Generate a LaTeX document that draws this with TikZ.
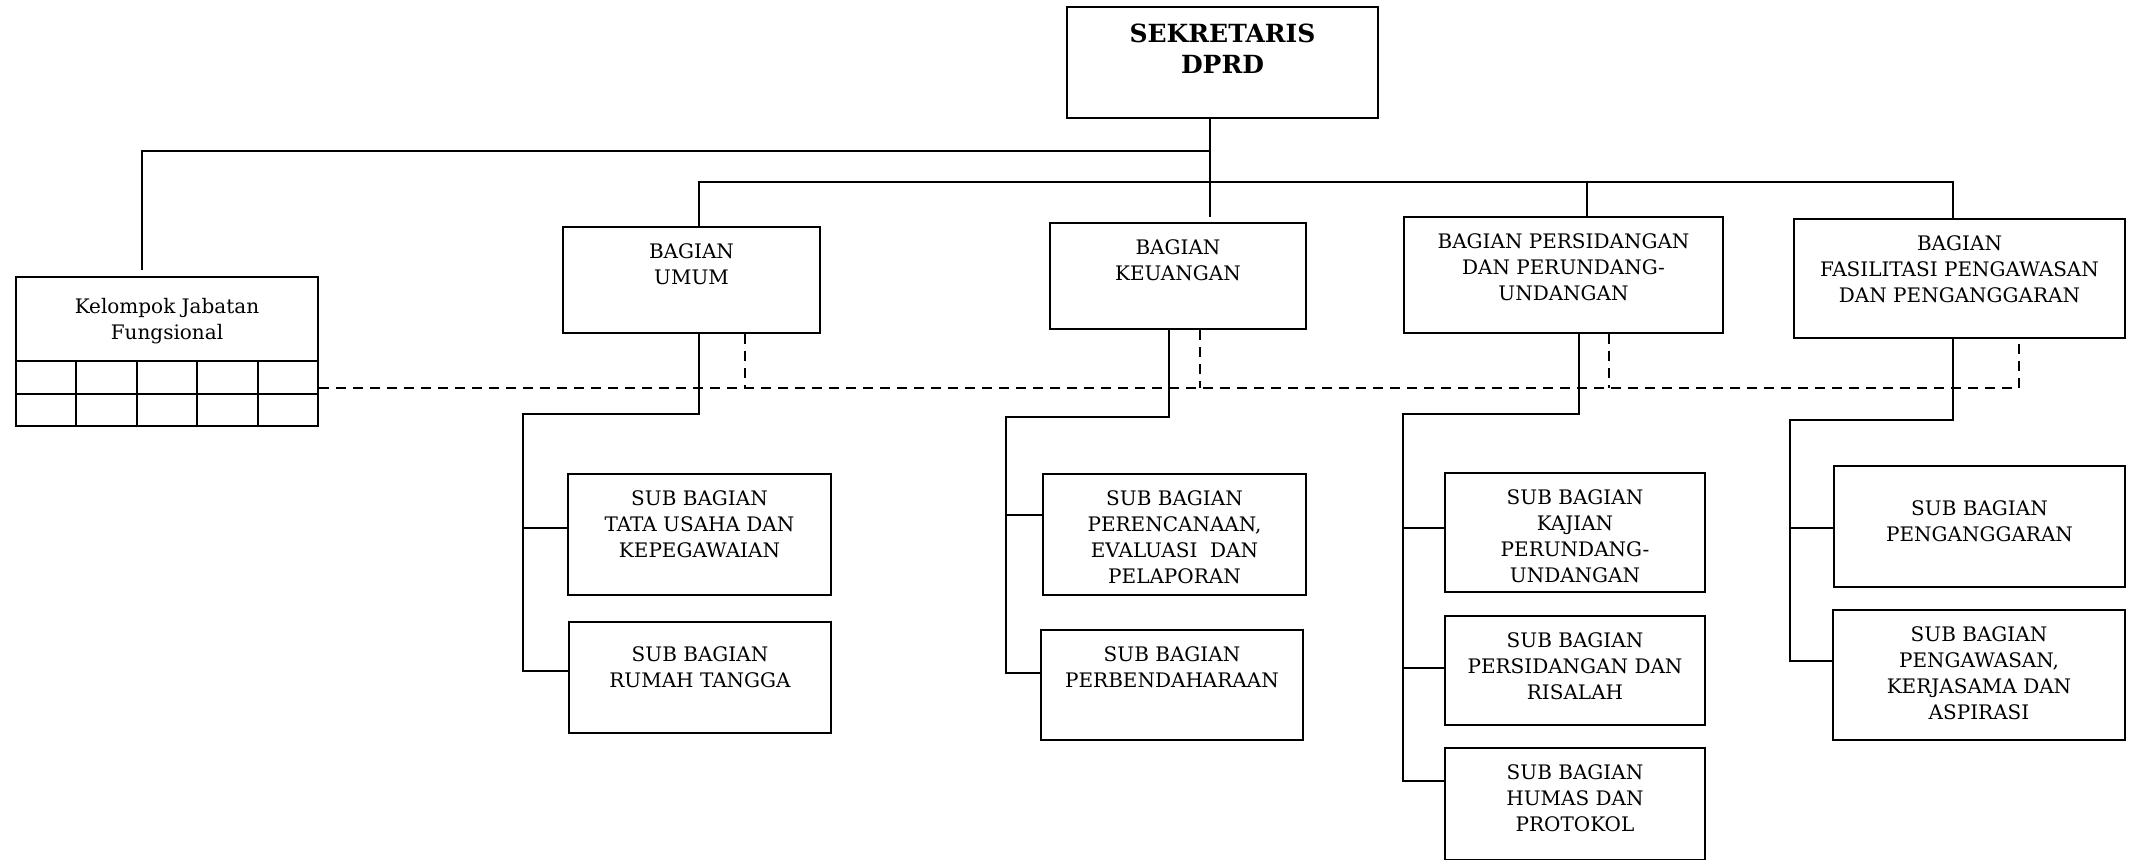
\documentclass[tikz,border=0pt]{standalone}
\usepackage{fontspec}
\setmainfont{DejaVu Serif}
\usetikzlibrary{fit,calc}
\begin{document}
\begin{tikzpicture}[x=0.5pt,y=-0.5pt,line width=1.1pt,
  unit/.style={draw,rectangle,inner sep=0pt,line width=1.1pt},
  label text/.style={anchor=north,align=center,inner sep=0pt,
    font=\fontsize{10}{13}\selectfont},
  head text/.style={anchor=north,align=center,inner sep=0pt,
    font=\bfseries\fontsize{12.5}{15.5}\selectfont},
  link/.style={line width=1.1pt},
  staff link/.style={line width=1.1pt,dash pattern=on 5pt off 3.5pt}]
\useasboundingbox (0,0) rectangle (2129,859);

% ---- units -------------------------------------------------------------
\node[unit,fit={(1067,7)(1378,118)}] (sek) {};
\node[head text] (sekT) at ($(sek.north)+(0,17)$) {SEKRETARIS\\DPRD};

\node[unit,fit={(16,277)(318,426)}] (kel) {};
\node[label text] (kelT) at ($(kel.north)+(0,21)$) {Kelompok Jabatan\\Fungsional};

\node[unit,fit={(563,227)(820,333)}] (umum) {};
\node[label text] (umumT) at ($(umum.north)+(0,17)$) {BAGIAN\\UMUM};

\node[unit,fit={(1050,223)(1306,329)}] (keu) {};
\node[label text] (keuT) at ($(keu.north)+(0,17)$) {BAGIAN\\KEUANGAN};

\node[unit,fit={(1404,217)(1723,333)}] (pers) {};
\node[label text] (persT) at ($(pers.north)+(0,17)$) {BAGIAN PERSIDANGAN\\DAN PERUNDANG-\\UNDANGAN};

\node[unit,fit={(1794,219)(2125,338)}] (fas) {};
\node[label text] (fasT) at ($(fas.north)+(0,17)$) {BAGIAN\\FASILITASI PENGAWASAN\\DAN PENGANGGARAN};

\node[unit,fit={(568,474)(831,595)}] (tu) {};
\node[label text] (tuT) at ($(tu.north)+(0,17)$) {SUB BAGIAN\\TATA USAHA DAN\\KEPEGAWAIAN};

\node[unit,fit={(569,622)(831,733)}] (rt) {};
\node[label text] (rtT) at ($(rt.north)+(0,25)$) {SUB BAGIAN\\RUMAH TANGGA};

\node[unit,fit={(1043,474)(1306,595)}] (pel) {};
\node[label text] (pelT) at ($(pel.north)+(0,17)$) {SUB BAGIAN\\PERENCANAAN,\\EVALUASI\ \ DAN\\PELAPORAN};

\node[unit,fit={(1041,630)(1303,740)}] (perb) {};
\node[label text] (perbT) at ($(perb.north)+(0,17)$) {SUB BAGIAN\\PERBENDAHARAAN};

\node[unit,fit={(1445,473)(1705,592)}] (kaj) {};
\node[label text] (kajT) at ($(kaj.north)+(0,17)$) {SUB BAGIAN\\KAJIAN\\PERUNDANG-\\UNDANGAN};

\node[unit,fit={(1445,616)(1705,725)}] (ris) {};
\node[label text] (risT) at ($(ris.north)+(0,17)$) {SUB BAGIAN\\PERSIDANGAN DAN\\RISALAH};

\node[unit,fit={(1445,748)(1705,860)}] (hum) {};
\node[label text] (humT) at ($(hum.north)+(0,17)$) {SUB BAGIAN\\HUMAS DAN\\PROTOKOL};

\node[unit,fit={(1834,466)(2125,587)}] (peng) {};
\node[label text] (pengT) at ($(peng.north)+(0,35)$) {SUB BAGIAN\\PENGANGGARAN};

\node[unit,fit={(1833,610)(2125,740)}] (pka) {};
\node[label text] (pkaT) at ($(pka.north)+(0,17)$) {SUB BAGIAN\\PENGAWASAN,\\KERJASAMA DAN\\ASPIRASI};

% grid under the functional group
\draw (kel.west |- 0,361) -- (kel.east |- 0,361);
\draw (kel.west |- 0,394) -- (kel.east |- 0,394);
\foreach \cx in {76,137,197,258}
  \draw (\cx,361) -- (\cx,426);

% ---- line of command ---------------------------------------------------
\coordinate (keuTop) at (1210,217);
\coordinate (kelTop) at (142,270);
\draw[link] (sek.south -| 1210,0) -- (keuTop);
\draw[link] (1210,151) -- (142,151) -- (kelTop);
\draw[link] (umum.north -| 699,0) -- (699,182) -- (1953,182) -- (fas.north -| 1953,0);
\draw[link] (pers.north -| 1587,0) -- (1587,182);

% Bagian Umum
\draw[link] (umum.south -| 699,0) -- (699,414) -- (523,414) -- (523,671) -- (rt.west |- 0,671);
\draw[link] (523,528) -- (tu.west |- 0,528);
% Bagian Keuangan
\draw[link] (keu.south -| 1169,0) -- (1169,417) -- (1006,417) -- (1006,673) -- (perb.west |- 0,673);
\draw[link] (1006,515) -- (pel.west |- 0,515);
% Bagian Persidangan
\draw[link] (pers.south -| 1579,0) -- (1579,414) -- (1403,414) -- (1403,781) -- (hum.west |- 0,781);
\draw[link] (1403,528) -- (kaj.west |- 0,528);
\draw[link] (1403,668) -- (ris.west |- 0,668);
% Bagian Fasilitasi
\draw[link] (fas.south -| 1953,0) -- (1953,420) -- (1790,420) -- (1790,661) -- (pka.west |- 0,661);
\draw[link] (1790,528) -- (peng.west |- 0,528);

% ---- line of coordination ----------------------------------------------
\draw[staff link] (kel.east |- 0,388) -- (2019,388) -- (fas.south -| 2019,0);
\draw[staff link] (umum.south -| 745,0) -- (745,388);
\draw[staff link] (keu.south -| 1200,0) -- (1200,388);
\draw[staff link] (pers.south -| 1609,0) -- (1609,388);
\end{tikzpicture}
\end{document}
